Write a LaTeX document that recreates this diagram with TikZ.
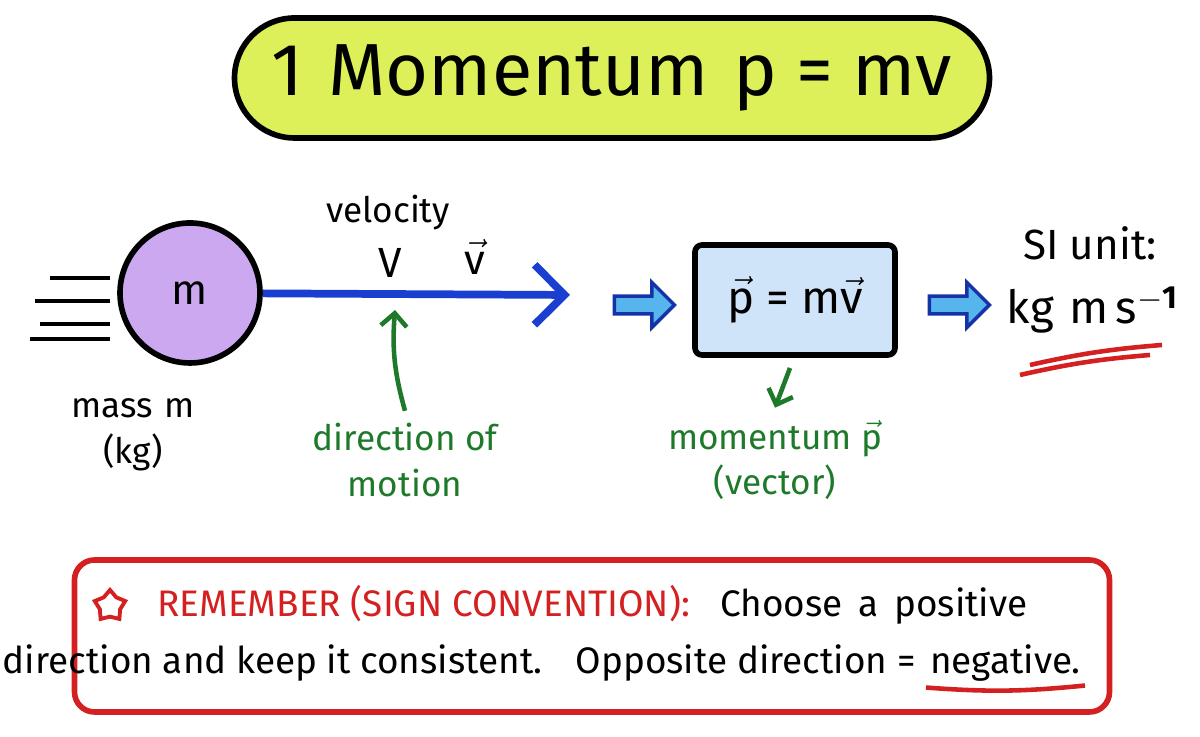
\documentclass[tikz,border=0pt]{standalone}
\usepackage{fontspec}
\setmainfont{Fira Sans}
\usetikzlibrary{shapes, arrows.meta, positioning, calc}
\definecolor{titlefill}{HTML}{DDF05A}
\definecolor{massfill}{HTML}{CBA8F0}
\definecolor{boxfill}{HTML}{CFE4F8}
\definecolor{vblue}{HTML}{1A3FD0}
\definecolor{hgreen}{HTML}{1E7A2A}
\definecolor{rred}{HTML}{D42020}
\tikzstyle{label} = [align=center, font=\fontsize{10}{13}\selectfont]
\tikzstyle{note} = [label, text=hgreen]
\tikzstyle{fat} = [single arrow, draw=vblue!80!black, fill=vblue!55!cyan!70, line width=1pt, minimum height=0.6cm, minimum width=0.45cm, single arrow head extend=0.08cm, inner sep=1pt]
\begin{document}
\begin{tikzpicture}[x=1cm, y=1cm]
\useasboundingbox (0,0) rectangle (12,7.37);
% title
\node (title) [draw, line width=1.6pt, fill=titlefill, rounded corners=0.6cm, minimum width=7.55cm, minimum height=1.2cm, font=\fontsize{21}{25}\selectfont] at (6.12,6.59) {1\,\,Momentum\,\,p = mv};
% mass
\node (mass) [circle, draw, line width=1.6pt, fill=massfill, minimum size=1.4cm, font=\fontsize{12}{14}\selectfont] at (1.9,4.44) {m};
\foreach \y/\x in {4.59/0.5, 4.36/0.35, 4.13/0.4, 3.98/0.3} \draw[line width=1pt] (\x,\y) -- (1.1,\y);
\node (massl) [label] at (1.33,3.02) {mass\,\,m\\(kg)};
% velocity
\coordinate (vend) at (5.7,4.42);
\draw[vblue, line width=2.2pt, -{Straight Barb[length=3mm]}] (mass) -- (vend);
\node (vel) [label] at (3.88,5.24) {velocity};
\node (vv) [label, font=\fontsize{12}{14}\selectfont] at (3.9,4.74) {V};
\node (vvec) [label, font=\fontsize{12}{14}\selectfont] at (4.75,4.8) {$\vec{\mathrm{v}}$};
\coordinate (vpt) at (3.95,4.27);
\node (dir) [note] at (4.05,2.77) {direction of\\motion};
\draw[hgreen, line width=1.3pt, -{Straight Barb[length=1.3mm]}] (dir.north) to[bend left=10] (vpt);
% momentum box
\node (arr1) [fat] at (6.4,4.32) {};
\node (pbox) [draw, line width=1.6pt, fill=boxfill, rounded corners=2pt, minimum width=2cm, minimum height=1.1cm, font=\fontsize{13}{16}\selectfont] at (7.95,4.37) {$\vec{\mathrm{p}}$ = m$\vec{\mathrm{v}}$};
\coordinate (ptop) at (7.9,3.69);
\node (mom) [note] at (7.75,2.77) {momentum $\vec{\mathrm{p}}$\\(vector)};
\draw[hgreen, line width=1.3pt, -{Straight Barb[length=1.3mm]}] (ptop) -- (mom.north);
\node (arr2) [fat] at (9.55,4.32) {};
% SI unit
\node (si) [label, font=\fontsize{12}{14}\selectfont] at (10.9,4.94) {SI unit:};
\node (unit) [label, font=\fontsize{13}{16}\selectfont] at (10.93,4.27) {kg\,\,m\,s$^{\mathbf{-1}}$};
\draw[rred, line width=1.3pt] (10.3,3.72) to[bend left=4] (11.62,3.92);
\draw[rred, line width=1.3pt] (10.2,3.62) to[bend left=4] (11.5,3.82);
% remember box
\node (rem) [draw=rred, line width=1.6pt, rounded corners=0.2cm, minimum width=10.35cm, minimum height=1.52cm] at (5.92,1.01) {};
\node (star) [star, star points=5, draw=rred, line width=1.1pt, minimum size=0.32cm, inner sep=0pt] at (1.1,1.31) {};
\node (line1) [label, anchor=west, font=\fontsize{10.5}{13}\selectfont] at (1.45,1.32) {\textcolor{rred}{REMEMBER (SIGN CONVENTION):}\;\; Choose\, a\, positive};
\node (neg) [label, anchor=east, font=\fontsize{10.5}{13}\selectfont, inner sep=1pt] at (10.85,0.74) {negative.};
\node (line2) [label, anchor=east, font=\fontsize{10.5}{13}\selectfont, inner sep=1pt] at (neg.west) {direction and keep it consistent.\;\; Opposite direction =\,};
\draw[rred, line width=1.3pt] ($(neg.south west)+(0,-0.02)$) to[bend right=5] ($(neg.south east)+(0,0)$);
\end{tikzpicture}
\end{document}
